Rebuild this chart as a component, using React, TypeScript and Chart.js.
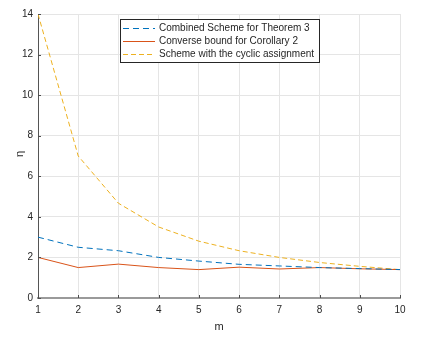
import React, { useEffect, useRef } from "react";
import { Chart, registerables } from "chart.js";

Chart.register(...registerables);

const mValues = [1, 2, 3, 4, 5, 6, 7, 8, 9, 10];
const combinedScheme = [3.0, 2.5, 2.33, 2.0, 1.82, 1.66, 1.58, 1.5, 1.45, 1.4];
const converseBound = [2.0, 1.5, 1.67, 1.5, 1.4, 1.52, 1.43, 1.5, 1.44, 1.4];
const cyclicScheme = [14.0, 7.0, 4.67, 3.5, 2.8, 2.33, 2.0, 1.75, 1.56, 1.4];
const yTicks = [0, 2, 4, 6, 8, 10, 12, 14];

const seriesLabels = [
  "Combined Scheme for Theorem 3",
  "Converse bound for Corollary 2",
  "Scheme with the cyclic assignment",
];
const seriesColors = ["#0072BD", "#D95319", "#EDB120"];
const seriesDash = [[6, 4], [], [5, 3]];
const FONT = "'Liberation Sans', Arial, Helvetica, sans-serif";

const overlayPlugin = {
  id: "overlay",
  afterDraw(chart: any) {
    const ctx = chart.ctx;
    const area = chart.chartArea;
    const xs = chart.scales.x;
    const ys = chart.scales.y;
    ctx.save();
    // inward tick marks
    ctx.strokeStyle = "#4d4d4d";
    ctx.lineWidth = 1;
    ctx.setLineDash([]);
    for (const v of mValues) {
      const px = Math.round(xs.getPixelForValue(v)) + 0.5;
      ctx.beginPath();
      ctx.moveTo(px, area.bottom);
      ctx.lineTo(px, area.bottom - 3);
      ctx.stroke();
    }
    for (const v of yTicks) {
      const py = Math.round(ys.getPixelForValue(v)) + 0.5;
      ctx.beginPath();
      ctx.moveTo(area.left, py);
      ctx.lineTo(area.left + 3, py);
      ctx.stroke();
    }
    // axis titles
    ctx.fillStyle = "#262626";
    ctx.font = `11px ${FONT}`;
    ctx.textAlign = "center";
    ctx.textBaseline = "middle";
    ctx.fillText("m", (area.left + area.right) / 2, 327);
    ctx.save();
    ctx.translate(19.5, 154);
    ctx.rotate(-Math.PI / 2);
    ctx.font = `11px ${FONT}`;
    ctx.fillText("η", 0, 0);
    ctx.restore();
    // legend
    const lx = 120.5, ly = 19.5, lw = 199, lh = 43;
    ctx.fillStyle = "#ffffff";
    ctx.fillRect(lx, ly, lw, lh);
    ctx.strokeStyle = "#262626";
    ctx.lineWidth = 1;
    ctx.strokeRect(lx, ly, lw, lh);
    ctx.font = `10px ${FONT}`;
    ctx.textAlign = "left";
    ctx.textBaseline = "middle";
    const rows = [28, 41, 54];
    for (let i = 0; i < 3; i++) {
      ctx.strokeStyle = seriesColors[i];
      ctx.setLineDash(seriesDash[i]);
      ctx.beginPath();
      ctx.moveTo(123, rows[i] + 0.5);
      ctx.lineTo(155, rows[i] + 0.5);
      ctx.stroke();
      ctx.setLineDash([]);
      ctx.fillStyle = "#262626";
      ctx.fillText(seriesLabels[i], 159, rows[i] + 0.5);
    }
    ctx.restore();
  },
};

export default function App() {
  const ref = useRef<HTMLCanvasElement | null>(null);
  useEffect(() => {
    if (!ref.current) return;
    const data = [combinedScheme, converseBound, cyclicScheme];
    const chart = new Chart(ref.current, {
      type: "line",
      data: {
        datasets: data.map((vals, i) => ({
          label: seriesLabels[i],
          data: mValues.map((m, j) => ({ x: m, y: vals[j] })),
          borderColor: seriesColors[i],
          backgroundColor: seriesColors[i],
          borderDash: seriesDash[i],
          borderWidth: 1,
          pointRadius: 0,
          tension: 0,
          fill: false,
        })),
      },
      options: {
        animation: false,
        responsive: false,
        maintainAspectRatio: false,
        layout: { padding: { left: 0, right: 26, top: 14, bottom: 0 } },
        plugins: { legend: { display: false }, tooltip: { enabled: false } },
        scales: {
          x: {
            type: "linear",
            min: 1,
            max: 10,
            afterFit: (s: any) => { s.height = 41; },
            afterBuildTicks: (s: any) => { s.ticks = mValues.map((v) => ({ value: v })); },
            border: { display: true, color: "#9a9a9a", width: 2 },
            grid: { color: "#e5e5e5", lineWidth: 1, drawTicks: false },
            ticks: { color: "#262626", font: { family: FONT, size: 10 }, padding: 6, maxRotation: 0, autoSkip: false },
          },
          y: {
            type: "linear",
            min: 0,
            max: 14,
            afterFit: (s: any) => { s.width = 38; },
            afterBuildTicks: (s: any) => { s.ticks = yTicks.map((v) => ({ value: v })); },
            border: { display: true, color: "#555555", width: 1 },
            grid: { color: "#e5e5e5", lineWidth: 1, drawTicks: false },
            ticks: { color: "#262626", font: { family: FONT, size: 10 }, padding: 5 },
          },
        },
      },
      plugins: [overlayPlugin],
    });
    return () => chart.destroy();
  }, []);
  return (
    <div style={{ position: "absolute", left: 0, top: 0, width: 426, height: 339, background: "#fff" }}>
      <canvas ref={ref} width={426} height={339} style={{ width: 426, height: 339 }} />
    </div>
  );
}
